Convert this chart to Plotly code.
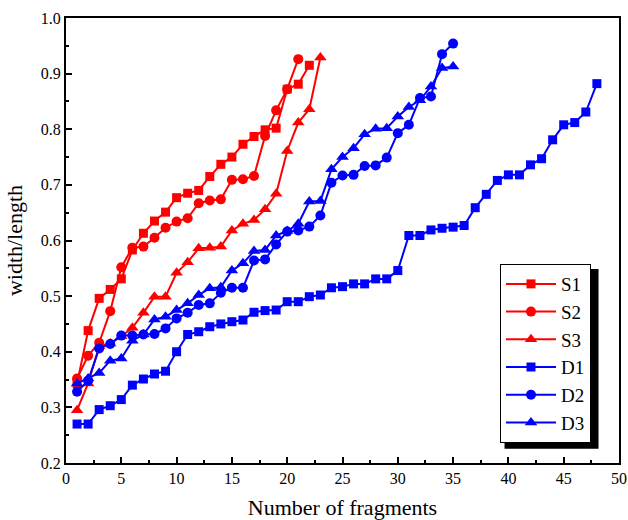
import plotly.graph_objects as go

# width/length ratio per fragment index, sorted ascending for each sample
S1 = [0.343, 0.438, 0.496, 0.512, 0.531, 0.583, 0.613, 0.635, 0.651, 0.677, 0.685,
      0.690, 0.715, 0.737, 0.750, 0.773, 0.787, 0.799, 0.802, 0.872, 0.881, 0.915]
S2 = [0.352, 0.393, 0.416, 0.473, 0.552, 0.587, 0.589, 0.605, 0.623, 0.634, 0.640,
      0.667, 0.672, 0.674, 0.709, 0.710, 0.716, 0.788, 0.834, 0.872, 0.926]
S3 = [0.295, 0.343, 0.410, 0.415, 0.428, 0.443, 0.470, 0.499, 0.499, 0.542, 0.561,
      0.586, 0.587, 0.589, 0.618, 0.630, 0.637, 0.656, 0.684, 0.761, 0.812, 0.836, 0.929]
D1 = [0.270, 0.270, 0.296, 0.303, 0.314, 0.340, 0.351, 0.360, 0.365, 0.400, 0.431,
      0.436, 0.445, 0.450, 0.454, 0.457, 0.471, 0.474, 0.475, 0.490, 0.490, 0.499,
      0.502, 0.515, 0.517, 0.522, 0.522, 0.531, 0.531, 0.546, 0.609, 0.609, 0.619,
      0.622, 0.624, 0.627, 0.659, 0.683, 0.708, 0.718, 0.718, 0.736, 0.747, 0.781,
      0.808, 0.812, 0.831, 0.882]
D2 = [0.328, 0.348, 0.406, 0.414, 0.429, 0.429, 0.431, 0.432, 0.442, 0.460, 0.470,
      0.484, 0.487, 0.506, 0.515, 0.515, 0.564, 0.566, 0.593, 0.616, 0.618, 0.625,
      0.645, 0.704, 0.717, 0.718, 0.734, 0.735, 0.749, 0.793, 0.808, 0.856, 0.859,
      0.935, 0.954]
D3 = [0.343, 0.352, 0.362, 0.384, 0.388, 0.420, 0.431, 0.458, 0.463, 0.475, 0.487,
      0.502, 0.514, 0.516, 0.546, 0.559, 0.581, 0.583, 0.609, 0.617, 0.630, 0.670,
      0.671, 0.728, 0.750, 0.766, 0.791, 0.801, 0.802, 0.823, 0.840, 0.852, 0.877,
      0.910, 0.913]

names = ["S1", "S2", "S3", "D1", "D2", "D3"]
series = [S1, S2, S3, D1, D2, D3]
colors = ["#FF0000", "#FF0000", "#FF0000", "#0000FF", "#0000FF", "#0000FF"]
symbols = ["square", "circle", "triangle-up", "square", "circle", "triangle-up"]
sizes = [9, 10, 11, 9, 10, 11]

FONT = "Liberation Serif, Times New Roman, serif"

fig = go.Figure()
for name, ys, c, sym, sz in zip(names, series, colors, symbols, sizes):
    fig.add_trace(go.Scatter(
        x=list(range(1, len(ys) + 1)), y=ys, name=name,
        mode="lines+markers",
        line=dict(color=c, width=2),
        marker=dict(symbol=sym, size=sz, color=c),
    ))

axis_common = dict(
    showline=True, linecolor="black", linewidth=2, mirror=True,
    ticks="inside", ticklen=6, tickwidth=1.5, tickcolor="black",
    showgrid=False, zeroline=False, automargin=False,
    tickfont=dict(family=FONT, size=16, color="black"),
)

fig.update_xaxes(
    range=[0, 50], dtick=5, tick0=0,
    minor=dict(ticks="inside", ticklen=3, dtick=2.5, tickcolor="black", tickwidth=1.5),
    title=dict(text="Number of fragments", font=dict(family=FONT, size=22, color="black"), standoff=14),
    **axis_common,
)
fig.update_yaxes(
    range=[0.2, 1.0], dtick=0.1, tick0=0.2, tickformat=".1f",
    minor=dict(ticks="inside", ticklen=3, dtick=0.05, tickcolor="black", tickwidth=1.5),
    title=dict(text="width/length", font=dict(family=FONT, size=22, color="black"), standoff=12),
    **axis_common,
)

# drop shadow behind the legend box
fig.add_shape(type="rect", xref="paper", yref="paper",
              x0=0.793, x1=0.963, y0=0.032, y1=0.436,
              fillcolor="black", line=dict(width=0), layer="above")

fig.update_layout(
    width=628, height=520,
    margin=dict(l=66, r=9, t=18, b=57, autoexpand=False),
    paper_bgcolor="white", plot_bgcolor="white",
    font=dict(family=FONT, color="black"),
    legend=dict(
        x=0.7848, y=0.4471, xanchor="left", yanchor="top",
        bgcolor="white", bordercolor="black", borderwidth=1,
        font=dict(family=FONT, size=19, color="black"),
        tracegroupgap=0, itemwidth=50,
    ),
)

fig.write_html("out.html")
